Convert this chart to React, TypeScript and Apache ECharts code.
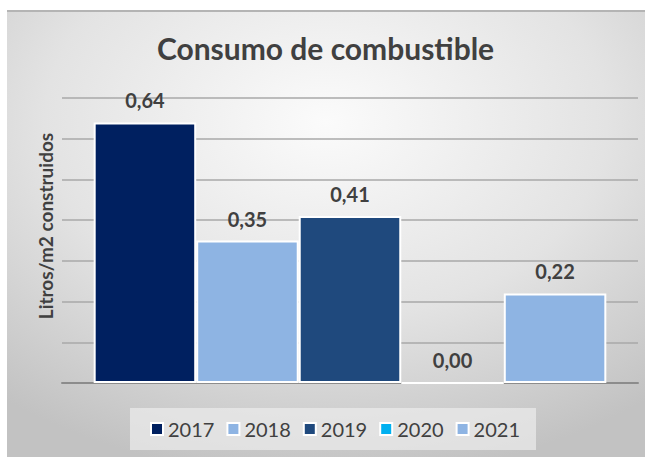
import React, { useEffect, useRef } from "react";
import * as echarts from "echarts";

const title = "Consumo de combustible";
const yAxisTitle = "Litros/m2 construidos";
const years = ["2017", "2018", "2019", "2020", "2021"];
const values = [0.64, 0.35, 0.41, 0.0, 0.22];
const colors = ["#002060", "#8EB4E3", "#1F497D", "#00B0F0", "#8EB4E3"];
const yMin = 0;
const yMax = 0.7;
const yStep = 0.1;

const fmt = (v: number) => v.toFixed(2).replace(".", ",");

export default function App() {
  const ref = useRef<HTMLDivElement>(null);
  useEffect(() => {
    if (!ref.current) return;
    const chart = echarts.init(ref.current, null, { renderer: "svg" });
    const txt = "#404040";
    chart.setOption({
      animation: false,
      backgroundColor: "#ffffff",
      textStyle: { fontFamily: "Lato" },
      title: {
        text: title,
        left: "center",
        top: 28,
        textStyle: { fontFamily: "Lato", fontWeight: "bold", fontSize: 30, color: txt },
      },
      graphic: [
        {
          type: "rect",
          z: -10,
          silent: true,
          shape: { x: 7, y: 10, width: 638, height: 447 },
          style: {
            fill: new echarts.graphic.RadialGradient(0.5, 0.25, 0.8, [
              { offset: 0, color: "#fbfbfb" },
              { offset: 0.55, color: "#e3e3e3" },
              { offset: 1, color: "#c2c2c2" },
            ]),
          },
        },
        {
          type: "line",
          z: -9,
          silent: true,
          shape: { x1: 7, y1: 11, x2: 645, y2: 11 },
          style: { stroke: "#b4b4b4", lineWidth: 2 },
        },
        {
          type: "rect",
          z: -8,
          silent: true,
          shape: { x: 130, y: 408, width: 406, height: 42 },
          style: { fill: "rgba(236,236,236,0.7)" },
        },
        {
          type: "text",
          x: 45,
          y: 226,
          rotation: Math.PI / 2,
          style: {
            text: yAxisTitle,
            fontFamily: "Lato",
            fontWeight: "bold",
            fontSize: 19,
            fill: txt,
            textAlign: "center",
            textVerticalAlign: "middle",
          },
        },
      ],
      grid: { left: 62, right: 13, top: 98, bottom: 74 },
      xAxis: {
        type: "category",
        data: [""],
        axisLine: { show: true, lineStyle: { color: "#8c8c8c", width: 2 } },
        axisTick: { show: false },
        axisLabel: { show: false },
      },
      yAxis: {
        type: "value",
        min: yMin,
        max: yMax,
        interval: yStep,
        axisLabel: { show: false },
        axisLine: { show: false },
        axisTick: { show: false },
        splitLine: { lineStyle: { color: "#a8a8a8", width: 1.5 } },
      },
      legend: {
        left: 145,
        top: 414,
        itemWidth: 12,
        itemHeight: 12,
        itemGap: 12,
        icon: "rect",
        data: years,
        textStyle: { fontFamily: "Lato", fontSize: 20, color: txt, width: 50, padding: [0, 0, 0, 0] },
      },
      series: years.map((y, i) => ({
        name: y,
        type: "bar",
        data: [values[i]],
        barGap: "0%",
        barCategoryGap: "11%",
        itemStyle: { color: colors[i], borderColor: "#ffffff", borderWidth: 2 },
        label: {
          show: true,
          position: "top",
          distance: 12,
          formatter: (p: any) => fmt(p.value),
          fontFamily: "Lato",
          fontWeight: "bold",
          fontSize: 20,
          color: txt,
        },
      })),
    });
    return () => chart.dispose();
  }, []);
  return (
    <div style={{ position: "fixed", left: 0, top: 0, width: 651, height: 457 }}>
      <div ref={ref} style={{ width: 651, height: 457 }} />
    </div>
  );
}
